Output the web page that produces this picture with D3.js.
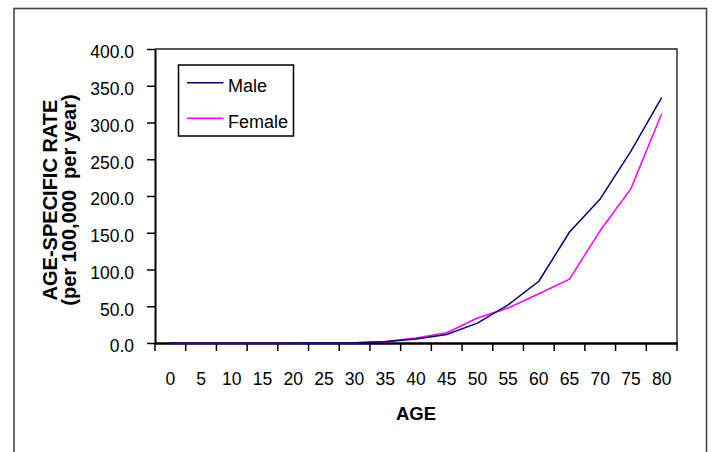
<!DOCTYPE html>
<html>
<head>
<meta charset="utf-8">
<script src="https://cdn.jsdelivr.net/npm/d3@7"></script>
<style>
  html, body { margin: 0; padding: 0; background: #fff; }
  svg { display: block; font-family: "Liberation Sans", Arial, sans-serif; }
</style>
</head>
<body>
<svg id="chart" width="713" height="452"></svg>
<script>
const ages = ["0","5","10","15","20","25","30","35","40","45","50","55","60","65","70","75","80"];
const maleRates   = [0.1,0.1,0.1,0.1,0.1,0.2,0.4,1.8,5.5,11.5,27,52,84,151,196,261,334];
const femaleRates = [0.1,0.1,0.1,0.1,0.1,0.2,0.5,2.0,6.8,14,34,47.5,67,87,153,210,312];
const yTicks = [0,50,100,150,200,250,300,350,400];
const seriesNames = ["Male","Female"];
const seriesColors = ["#000080","#FF00FF"];

(function(){
const svg = d3.select("#chart");
const pLeft = 155, pRight = 677, pTop = 49, pBottom = 343;

// outer border
svg.append("rect").attr("x",14).attr("y",8.5).attr("width",692.5).attr("height",460)
  .attr("fill","none").attr("stroke","#444").attr("stroke-width",1.6);

const x = d3.scaleBand().domain(ages).range([pLeft,pRight]).padding(0);
const y = d3.scaleLinear().domain([0,400]).range([pBottom,pTop]);

// plot frame (top & right)
svg.append("path").attr("d",`M${pLeft},${pTop}H${pRight}V${pBottom}`)
  .attr("fill","none").attr("stroke","#222").attr("stroke-width",1.4);

// y axis
const yAxis = d3.axisLeft(y).tickValues(yTicks).tickFormat(d3.format(".1f")).tickSize(8).tickSizeOuter(0);
const gy = svg.append("g").attr("transform",`translate(${pLeft},0)`).call(yAxis);
gy.select(".domain").attr("stroke","#000").attr("stroke-width",2);
gy.selectAll(".tick line").attr("stroke","#000").attr("stroke-width",1.5);
gy.selectAll(".tick text").attr("font-size","17.5px").attr("fill","#000")
  .attr("font-family","'Liberation Sans', Arial, sans-serif").attr("x",-21).attr("dy","0.5em");

// x axis
const xAxis = d3.axisBottom(x).tickSize(0).tickSizeOuter(0);
const gx = svg.append("g").attr("transform",`translate(0,${pBottom})`).call(xAxis);
gx.select(".domain").attr("stroke","#000").attr("stroke-width",2.5);
gx.selectAll(".tick text").attr("font-size","17.5px").attr("fill","#000")
  .attr("font-family","'Liberation Sans', Arial, sans-serif").attr("y",30).attr("dy","0.71em");
// tick marks at category boundaries
const bounds = ages.map(a => x(a)).concat([pRight]);
svg.append("g").selectAll("line").data(bounds).join("line")
  .attr("x1",d=>d).attr("x2",d=>d).attr("y1",pBottom).attr("y2",pBottom+8)
  .attr("stroke","#000").attr("stroke-width",1.5);

// lines
const line = d3.line().x((d,i)=>x(ages[i])+x.bandwidth()/2).y(d=>y(d));
[[femaleRates,1],[maleRates,0]].forEach(([vals, idx]) => {
  svg.append("path").datum(vals).attr("d",line).attr("fill","none")
    .attr("stroke",seriesColors[idx]).attr("stroke-width",1.5).attr("stroke-linejoin","round");
});

// axis titles
svg.append("text").attr("x",(pLeft+pRight)/2).attr("y",420).attr("text-anchor","middle")
  .attr("font-weight","bold").attr("font-size","18.5px").text("AGE");
const yt = svg.append("g").attr("transform","translate(0,200) rotate(-90)");
yt.append("text").attr("x",0).attr("y",57).attr("text-anchor","middle")
  .attr("font-weight","bold").attr("font-size","20px").text("AGE-SPECIFIC RATE");
yt.append("text").attr("x",0).attr("y",76).attr("text-anchor","middle")
  .attr("font-weight","bold").attr("font-size","20px").style("white-space","pre")
  .text("(per 100,000  per year)");

// legend
const lg = svg.append("g");
lg.append("rect").attr("x",178.5).attr("y",65).attr("width",115).attr("height",71)
  .attr("fill","#fff").attr("stroke","#000").attr("stroke-width",1.5);
seriesNames.forEach((name,i) => {
  const ly = 82.7 + i*35.6;
  lg.append("line").attr("x1",187).attr("x2",223.5).attr("y1",ly).attr("y2",ly)
    .attr("stroke",seriesColors[i]).attr("stroke-width",1.5);
  lg.append("text").attr("x",228).attr("y",ly+9.5).attr("font-size","18px").attr("fill","#000").text(name);
});
})();
</script>
</body>
</html>
